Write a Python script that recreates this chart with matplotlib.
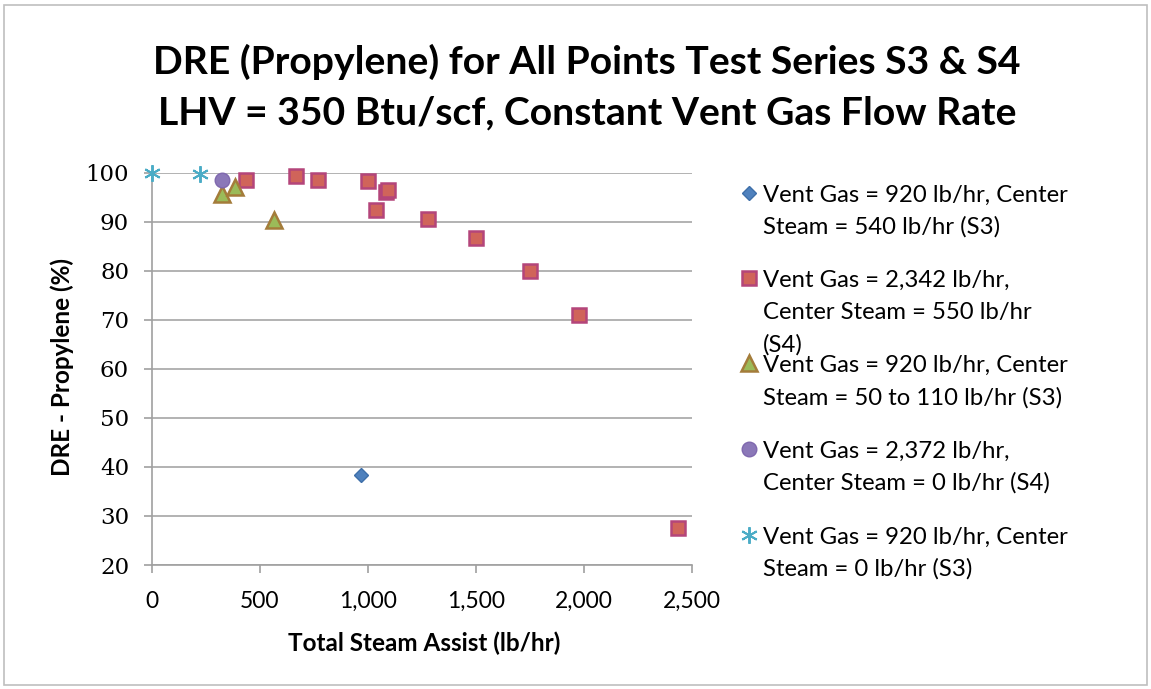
import matplotlib
matplotlib.use("Agg")
import matplotlib.pyplot as plt
from matplotlib.lines import Line2D
from matplotlib.patches import Rectangle
from matplotlib.ticker import FuncFormatter

# ---------------- data ----------------
title_lines = ["DRE (Propylene) for All Points Test Series S3 & S4",
               "LHV = 350 Btu/scf, Constant Vent Gas Flow Rate"]
x_label = "Total Steam Assist (lb/hr)"
y_label = "DRE - Propylene (%)"

s3_center540_x = [967]
s3_center540_y = [38.3]

s4_center550_x = [434, 665, 767, 998, 1083, 1094, 1037, 1276, 1500, 1749, 1978, 2434]
s4_center550_y = [98.4, 99.2, 98.5, 98.2, 96.0, 96.5, 92.4, 90.6, 86.6, 79.9, 70.9, 27.6]

s3_center50_110_x = [324, 383, 565]
s3_center50_110_y = [95.7, 97.1, 90.4]

s4_center0_x = [326]
s4_center0_y = [98.4]

s3_center0_x = [0, 224]
s3_center0_y = [99.9, 99.6]

legend_labels = [
    "Vent Gas = 920 lb/hr, Center\nSteam = 540 lb/hr (S3)",
    "Vent Gas = 2,342 lb/hr,\nCenter Steam = 550 lb/hr\n(S4)",
    "Vent Gas = 920 lb/hr, Center\nSteam = 50 to 110 lb/hr (S3)",
    "Vent Gas = 2,372 lb/hr,\nCenter Steam = 0 lb/hr (S4)",
    "Vent Gas = 920 lb/hr, Center\nSteam = 0 lb/hr (S3)",
]

x_ticks = [0, 500, 1000, 1500, 2000, 2500]
y_ticks = [20, 30, 40, 50, 60, 70, 80, 90, 100]

# ---------------- styles ----------------
W, H = 1151, 689
SANS = ["Lato", "DejaVu Sans"]
SERIF = ["DejaVu Serif"]

styles = [
    dict(marker="D", ms=7, mfc="#4F81BD", mec="#3E6FA9", mew=1.0),
    dict(marker="s", ms=10.5, mfc="#D0645A", mec="#B4457A", mew=1.8),
    dict(marker="^", ms=11, mfc="#9BBB59", mec="#A47C3A", mew=1.8),
    dict(marker="o", ms=10.5, mfc="#8B78B8", mec="#7F68AE", mew=1.0),
    dict(marker=(6, 2, 0), ms=12, mfc="#4BACC6", mec="#4BACC6", mew=1.4),
]
series = [
    (s3_center540_x, s3_center540_y),
    (s4_center550_x, s4_center550_y),
    (s3_center50_110_x, s3_center50_110_y),
    (s4_center0_x, s4_center0_y),
    (s3_center0_x, s3_center0_y),
]

fig = plt.figure(figsize=(W / 100, H / 100), dpi=100)
fig.patch.set_facecolor("white")

# outer frame
fig.add_artist(Rectangle((4 / W, 4 / H), (W - 8) / W, (H - 9) / H,
                         transform=fig.transFigure, fill=False,
                         edgecolor="#BFBFBF", lw=1.2))

ax_left, ax_right, ax_top, ax_bottom = 152, 692, 172.5, 565
ax = fig.add_axes([ax_left / W, 1 - ax_bottom / H,
                   (ax_right - ax_left) / W, (ax_bottom - ax_top) / H])

ax.set_xlim(0, 2500)
ax.set_ylim(20, 100)
ax.set_xticks(x_ticks)
ax.set_yticks(y_ticks)
ax.xaxis.set_major_formatter(FuncFormatter(lambda v, p: f"{int(v):,}"))
ax.yaxis.set_major_formatter(FuncFormatter(lambda v, p: f"{int(v)}"))

ax.grid(axis="y", color="#A6A6A6", lw=1.2, zorder=0)
ax.set_axisbelow(True)
for s in ["top", "right"]:
    ax.spines[s].set_visible(False)
for s in ["left", "bottom"]:
    ax.spines[s].set_color("#A0A0A0")
    ax.spines[s].set_linewidth(1.2)

ax.tick_params(axis="x", direction="out", length=5.5, width=1.2, color="#A0A0A0",
               pad=13, labelsize=16.5)
ax.tick_params(axis="y", direction="out", length=5.5, width=1.2, color="#A0A0A0",
               pad=11, labelsize=16.5)
for lab in ax.get_xticklabels():
    lab.set_family(SANS)
for lab in ax.get_yticklabels():
    lab.set_family(SERIF)

for (xs, ys), st in zip(series, styles):
    ax.plot(xs, ys, linestyle="none", clip_on=False, zorder=3, **st)

# titles
fig.text(587 / W, 1 - 74 / H, title_lines[0], ha="center", va="baseline",
         fontsize=28.2, fontweight="bold", family=SANS)
fig.text(587 / W, 1 - 124 / H, title_lines[1], ha="center", va="baseline",
         fontsize=28.2, fontweight="bold", family=SANS)

# axis labels
fig.text(424 / W, 1 - 643 / H, x_label, ha="center", va="center",
         fontsize=17.5, fontweight="bold", family=SANS)
fig.text(62 / W, 1 - 367 / H, y_label, ha="center", va="center", rotation=90,
         fontsize=17.5, fontweight="bold", family=SANS)

# legend (manual)
entry_baselines = [201.7, 287.3, 372.3, 457.7, 544]
line_step = 32
for lab, st, b in zip(legend_labels, styles, entry_baselines):
    fig.add_artist(Line2D([749.3 / W], [1 - (b - 9) / H], transform=fig.transFigure,
                          linestyle="none", **st))
    for i, line in enumerate(lab.split("\n")):
        fig.text(763 / W, 1 - (b + i * line_step) / H, line, ha="left",
                 va="baseline", fontsize=17.2, family=SANS)

fig.savefig("out.png", dpi=100)
